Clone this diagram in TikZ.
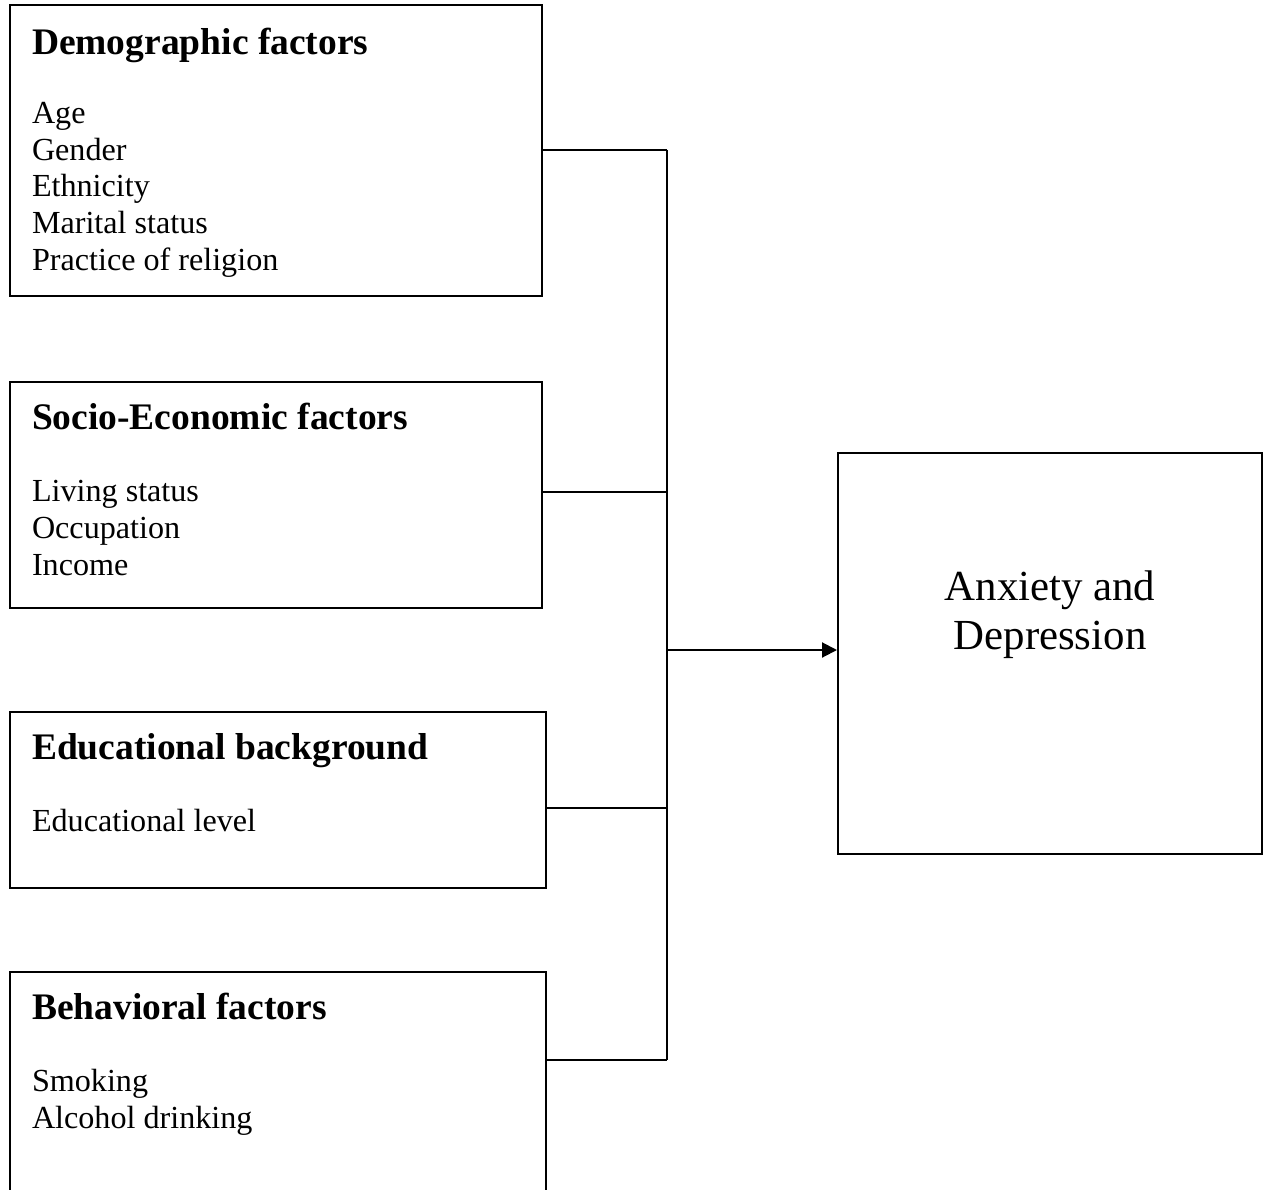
\documentclass[tikz,border=0pt]{standalone}
\usepackage{fontspec}
\setmainfont{Liberation Serif}
\usetikzlibrary{arrows.meta,fit}
\begin{document}
\begin{tikzpicture}[x=0.3733pt,y=-0.3733pt,line width=0.75pt,
  box/.style={draw,rectangle,inner sep=0pt},
  ttl/.style={anchor=base west,inner sep=0pt,font=\fontsize{14}{16}\selectfont\bfseries},
  itm/.style={anchor=base west,inner sep=0pt,font=\fontsize{12}{13.8}\selectfont},
  big/.style={anchor=base,inner sep=0pt,font=\fontsize{16}{18.4}\selectfont},
  conn/.style={line width=0.75pt},
  arr/.style={conn,-{Triangle[length=5.6pt,width=5.6pt]}}]
\useasboundingbox (0,0) rectangle (1263,1189);
\begin{scope}
\clip (0,0) rectangle (1263,1189);
% boxes
\node[box,fit={(10,5) (542,296)}] (demo) {};
\node[box,fit={(10,382) (542,608)}] (socio) {};
\node[box,fit={(10,712) (546,888)}] (edu) {};
\node[box,fit={(10,972) (546,1260)}] (beh) {};
\node[box,fit={(838,453) (1262,854)}] (out) {};
\end{scope}
% texts
\node[ttl] (t1) at (31,55) {Demographic factors};
\node[itm] (a1) at (31,124) {Age};
\node[itm] (a2) at (31,161) {Gender};
\node[itm] (a3) at (31,197) {Ethnicity};
\node[itm] (a4) at (31,234) {Marital status};
\node[itm] (a5) at (31,271) {Practice of religion};
\node[ttl] (t2) at (31,429) {Socio-Economic factors};
\node[itm] (b1) at (31,501) {Living status};
\node[itm] (b2) at (31,538) {Occupation};
\node[itm] (b3) at (31,575) {Income};
\node[ttl] (t3) at (31,759) {Educational background};
\node[itm] (c1) at (31,831) {Educational level};
\node[ttl] (t4) at (31,1019) {Behavioral factors};
\node[itm] (d1) at (31,1091) {Smoking};
\node[itm] (d2) at (31,1128) {Alcohol drinking};
\node[big] (o1) at (1050,600) {Anxiety and};
\node[big] (o2) at (1050,649) {Depression};
% connectors
\coordinate (j1) at (667,150);
\coordinate (j2) at (667,492);
\coordinate (j3) at (667,808);
\coordinate (j4) at (667,1060);
\coordinate (ja) at (667,650);
\draw[conn] (j1) -- (j4);
\draw[conn] (demo.east |- j1) -- (j1);
\draw[conn] (socio.east |- j2) -- (j2);
\draw[conn] (edu.east |- j3) -- (j3);
\draw[conn] (beh.east |- j4) -- (j4);
\draw[arr] (ja) -- (out.west |- ja);
\end{tikzpicture}
\end{document}
